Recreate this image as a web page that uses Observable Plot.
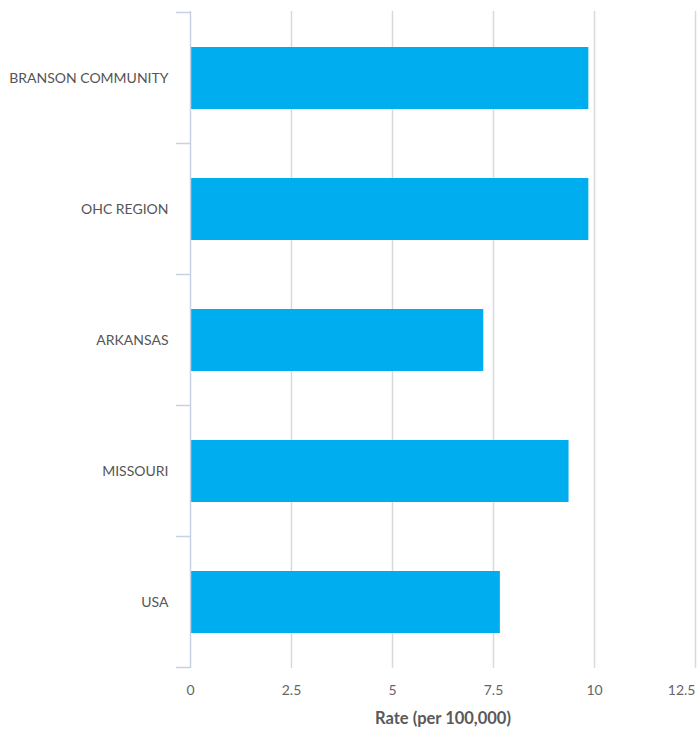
<!DOCTYPE html>
<html>
<head>
<meta charset="utf-8">
<script src="https://cdn.jsdelivr.net/npm/d3@7"></script>
<script src="https://cdn.jsdelivr.net/npm/@observablehq/plot@0.6"></script>
<style>
  html, body { margin: 0; padding: 0; background: #fff; }
  #chart svg { display: block; }
</style>
</head>
<body>
<div id="chart"></div>
<script>
const categories = ["BRANSON COMMUNITY", "OHC REGION", "ARKANSAS", "MISSOURI", "USA"];
const values = [9.86, 9.86, 7.26, 9.37, 7.67];
const xTicks = [0, 2.5, 5, 7.5, 10, 12.5];
const xLabel = "Rate (per 100,000)";

const data = categories.map((c, i) => ({name: c, value: values[i]}));

// tick marks at band boundaries on the y axis
function bandBoundaryTicks(index, scales, values, dimensions) {
  const y = scales.y;
  const step = y.step();
  const bw = y.bandwidth();
  const pos = categories.map(c => y(c) - (step - bw) / 2);
  pos.push(pos[pos.length - 1] + step);
  const x0 = dimensions.marginLeft;
  const g = d3.create("svg:g");
  g.selectAll("line").data(pos).join("line")
    .attr("x1", x0 - 14).attr("x2", x0)
    .attr("y1", d => d).attr("y2", d => d)
    .attr("stroke", "#c6d2e4").attr("stroke-width", 1.5);
  return g.node();
}

const lastTick = xTicks[xTicks.length - 1];

const chart = Plot.plot({
  width: 697,
  height: 734,
  marginLeft: 190,
  marginRight: 2,
  marginTop: 11,
  marginBottom: 66,
  style: {fontFamily: "Lato, sans-serif", fontSize: "14px", color: "#666", background: "#fff"},
  x: {domain: [0, 12.5], ticks: xTicks, label: null},
  y: {domain: categories, paddingInner: 0.53, paddingOuter: 0.265, label: null},
  marks: [
    Plot.ruleX(xTicks.filter(d => d > 0), {stroke: "#d9d9d9", strokeWidth: 1.5}),
    Plot.barX(data, {y: "name", x: "value", fill: "#00aeef"}),
    Plot.ruleX([0], {stroke: "#c6d2e4", strokeWidth: 1.5}),
    bandBoundaryTicks,
    Plot.axisY({tickSize: 0, tickPadding: 22, fill: "#555", fontSize: 14}),
    Plot.axisX({ticks: xTicks.filter(d => d !== lastTick), tickSize: 0, tickPadding: 17, fill: "#666", fontSize: 14,
      tickFormat: d => String(d), label: null}),
    Plot.axisX({ticks: [lastTick], tickSize: 0, tickPadding: 17, fill: "#666", fontSize: 14,
      textAnchor: "end", tickFormat: d => String(d), label: null}),
    Plot.text([xLabel], {frameAnchor: "bottom", dy: 55, text: d => d, fontWeight: "bold",
      fontSize: 16.5, fill: "#595959"})
  ]
});
document.getElementById("chart").appendChild(chart);
</script>
</body>
</html>
